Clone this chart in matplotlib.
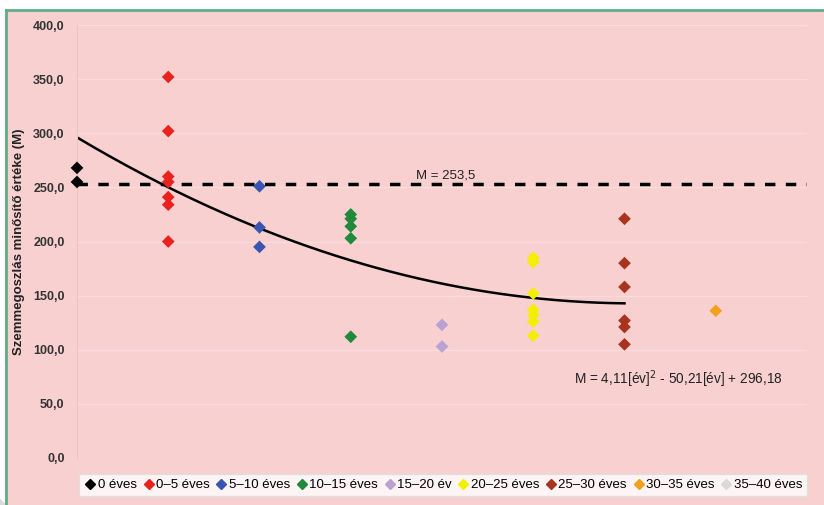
import matplotlib
matplotlib.use("Agg")
import matplotlib.pyplot as plt
import numpy as np
from matplotlib.patches import Rectangle
from matplotlib.lines import Line2D

plt.rcParams["font.family"] = ["Liberation Sans", "DejaVu Sans"]

categories = ["0 éves", "0–5 éves", "5–10 éves", "10–15 éves", "15–20 év",
              "20–25 éves", "25–30 éves", "30–35 éves", "35–40 éves"]
values = [
    [268, 255],
    [352, 302, 260, 255, 241, 234, 200],
    [251, 213, 195],
    [225, 221, 214, 203, 112],
    [123, 103],
    [185, 181, 152, 137, 132, 126, 113],
    [221, 180, 158, 127, 121, 105],
    [136],
    [],
]
colors = ["#000000", "#e8231e", "#3a55b0", "#1f8a3c", "#b9a2d2",
          "#f4ee00", "#a8341e", "#f3a020", "#d9d9d9"]
mean_value = 253.5
coef = [4.11, -50.21, 296.18]
yticks = [0, 50, 100, 150, 200, 250, 300, 350, 400]

bg = "#f8d0d0"
fig = plt.figure(figsize=(8.24, 5.05), dpi=100)
fig.patch.set_facecolor("white")
fig.patches.append(Rectangle((5/824, 0), 1, 1 - 10/505, transform=fig.transFigure,
                             facecolor=bg, edgecolor="none", zorder=-2))
fig.lines.append(Line2D([5.5/824, 1], [1 - 9.5/505, 1 - 9.5/505], transform=fig.transFigure,
                        color="#5fae86", lw=2))
fig.lines.append(Line2D([5.5/824, 5.5/824], [0, 1 - 9.5/505], transform=fig.transFigure,
                        color="#5fae86", lw=2))

ax = fig.add_axes([77/824, 1 - 458/505, (807 - 77)/824, (458 - 25)/505])
ax.set_facecolor(bg)
ax.set_xlim(0, 8)
ax.set_ylim(0, 400)
for s in ["top", "right", "bottom"]:
    ax.spines[s].set_visible(False)
ax.spines["left"].set_color("#e9c4c4")
ax.set_xticks([])
ax.set_yticks(yticks)
ax.set_yticklabels([f"{v:.1f}".replace(".", ",") for v in yticks],
                   fontsize=9, color="#333333", fontweight="bold")
ax.tick_params(axis="y", length=0, pad=9)
ax.grid(axis="y", color="#fbdcdc", lw=1)
ax.set_axisbelow(True)
ax.set_ylabel("Szemmegoszlás minősítő értéke (M)", fontsize=9.5, fontweight="bold",
              color="#222222", labelpad=6)

handles = []
for i, (cat, vals, c) in enumerate(zip(categories, values, colors)):
    ax.scatter([i] * len(vals), vals, marker="D", s=42, color=c, zorder=3,
               edgecolors="none", clip_on=False)
    handles.append(Line2D([], [], marker="D", color=c, ls="none", markersize=5))

ax.axhline(mean_value, color="black", lw=2.5, ls=(0, (3, 3)), zorder=2)
xs = np.linspace(0, 6, 200)
ax.plot(xs, np.polyval(coef, xs), color="black", lw=1.8, zorder=2)

ax.text(3.72, 258, "M = 253,5", fontsize=9.5, color="#222222")
ax.text(5.45, 68, "M = 4,11[év]$^2$ - 50,21[év] + 296,18", fontsize=9.8, color="#222222")

leg = fig.legend(handles, categories, loc="center", ncol=9,
                 bbox_to_anchor=(443/824, 1 - 485/505), fontsize=9.5,
                 handletextpad=0.05, columnspacing=0.4, handlelength=1.0,
                 frameon=True, fancybox=False, borderpad=0.4)
leg.get_frame().set_facecolor("white")
leg.get_frame().set_edgecolor("#dddddd")

fig.savefig("out.png", dpi=100, facecolor=fig.get_facecolor())
